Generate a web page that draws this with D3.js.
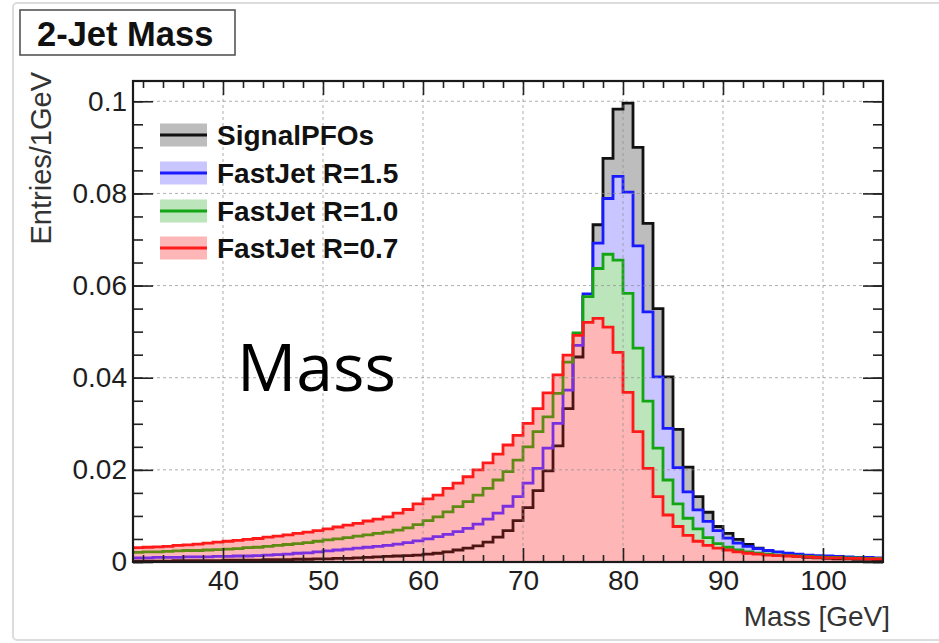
<!DOCTYPE html>
<html>
<head>
<meta charset="utf-8">
<script src="https://cdn.jsdelivr.net/npm/d3@7"></script>
<style>
  body { margin: 0; background: #fff; }
  svg { display: block; font-family: "Liberation Sans", Arial, Helvetica, sans-serif; }
</style>
</head>
<body>
<svg id="chart" width="939" height="643"></svg>
<script>
// histogram binning: 1 GeV bins starting at 31 GeV
const binLow = 31;
const binWidth = 1;
const massRange = [31, 106];
const entriesMax = 0.1044;

const xTicks = [40, 50, 60, 70, 80, 90, 100];
const xMinorTicks = d3.range(32, 106, 2);
const yTicks = [0, 0.02, 0.04, 0.06, 0.08, 0.1];
const yTickLabels = ["0", "0.02", "0.04", "0.06", "0.08", "0.1"];
const yMinorTicks = d3.range(0, 0.1041, 0.005);

const seriesNames = ["SignalPFOs", "FastJet R=1.5", "FastJet R=1.0", "FastJet R=0.7"];

// bins 31..105 (lower edges)
const signalPFOs = [
  0.0002, 0.0002, 0.0002, 0.0002, 0.0003, 0.0003, 0.0003, 0.0003, 0.0003, 0.0004,
  0.0004, 0.0004, 0.0004, 0.0005, 0.0005, 0.0005, 0.0006, 0.0006, 0.0007, 0.0007,
  0.0008, 0.0008, 0.0009, 0.0010, 0.0011, 0.0012, 0.0013, 0.0014, 0.0015, 0.0017,
  0.0019, 0.0022, 0.0026, 0.0030, 0.0035, 0.0043, 0.0054, 0.0068, 0.0090, 0.0118,
  0.0155, 0.0198, 0.0252, 0.0333, 0.0445, 0.0575, 0.0732, 0.0876, 0.0983, 0.0996,
  0.0900, 0.0735, 0.0550, 0.0402, 0.0288, 0.0206, 0.0142, 0.0108, 0.0077, 0.0062,
  0.0049, 0.0038, 0.0030, 0.0023, 0.0018, 0.0015, 0.0012, 0.0010, 0.0009, 0.0008,
  0.0007, 0.0007, 0.0006, 0.0006, 0.0005
];
const fastJetR15 = [
  0.0009, 0.0009, 0.0010, 0.0010, 0.0010, 0.0011, 0.0011, 0.0011, 0.0012, 0.0012,
  0.0013, 0.0013, 0.0014, 0.0015, 0.0016, 0.0017, 0.0019, 0.0020, 0.0022, 0.0024,
  0.0026, 0.0028, 0.0030, 0.0032, 0.0034, 0.0036, 0.0039, 0.0042, 0.0046, 0.0050,
  0.0055, 0.0060, 0.0066, 0.0073, 0.0082, 0.0093, 0.0106, 0.0121, 0.0142, 0.0171,
  0.0203, 0.0247, 0.0301, 0.0373, 0.0470, 0.0582, 0.0692, 0.0789, 0.0837, 0.0803,
  0.0686, 0.0543, 0.0402, 0.0290, 0.0205, 0.0152, 0.0113, 0.0088, 0.0068, 0.0052,
  0.0041, 0.0034, 0.0029, 0.0025, 0.0022, 0.0019, 0.0017, 0.0015, 0.0014, 0.0013,
  0.0012, 0.0011, 0.0010, 0.0010, 0.0009
];
const fastJetR10 = [
  0.0021, 0.0022, 0.0022, 0.0023, 0.0024, 0.0025, 0.0025, 0.0026, 0.0027, 0.0028,
  0.0029, 0.0031, 0.0032, 0.0034, 0.0036, 0.0038, 0.0040, 0.0042, 0.0045, 0.0048,
  0.0050, 0.0053, 0.0056, 0.0059, 0.0062, 0.0065, 0.0069, 0.0074, 0.0081, 0.0090,
  0.0098, 0.0109, 0.0120, 0.0131, 0.0145, 0.0160, 0.0178, 0.0196, 0.0221, 0.0250,
  0.0283, 0.0315, 0.0366, 0.0434, 0.0497, 0.0576, 0.0637, 0.0668, 0.0655, 0.0583,
  0.0464, 0.0349, 0.0247, 0.0178, 0.0126, 0.0095, 0.0072, 0.0053, 0.0040, 0.0032,
  0.0026, 0.0022, 0.0019, 0.0017, 0.0015, 0.0014, 0.0013, 0.0012, 0.0011, 0.0010,
  0.0010, 0.0009, 0.0009, 0.0008, 0.0008
];
const fastJetR07 = [
  0.0031, 0.0032, 0.0033, 0.0034, 0.0036, 0.0037, 0.0039, 0.0041, 0.0043, 0.0045,
  0.0047, 0.0049, 0.0051, 0.0054, 0.0056, 0.0059, 0.0062, 0.0065, 0.0068, 0.0072,
  0.0076, 0.0080, 0.0084, 0.0089, 0.0093, 0.0098, 0.0106, 0.0114, 0.0126, 0.0137,
  0.0145, 0.0160, 0.0171, 0.0185, 0.0200, 0.0215, 0.0234, 0.0254, 0.0275, 0.0301,
  0.0333, 0.0367, 0.0406, 0.0449, 0.0492, 0.0520, 0.0529, 0.0510, 0.0455, 0.0368,
  0.0283, 0.0203, 0.0142, 0.0102, 0.0077, 0.0058, 0.0045, 0.0036, 0.0030, 0.0026,
  0.0022, 0.0019, 0.0017, 0.0015, 0.0014, 0.0013, 0.0012, 0.0011, 0.0010, 0.0009,
  0.0009, 0.0008, 0.0008, 0.0007, 0.0007
];

const lineColors = ["#111111", "#1a1aff", "#14a514", "#ff1a1a"];
const fillColors = ["#bdbdbd", "#c9c6ff", "#bce5bc", "#ffb6b6"];
// line colour as seen through the translucent R=0.7 fill
const tintColors = ["#4d1414", "#7a2fe0", "#5f8a14", null];

const svg = d3.select("#chart");
const plot = { left: 133, right: 883, top: 81, bottom: 562 };

const x = d3.scaleLinear().domain(massRange).range([plot.left, plot.right]);
const y = d3.scaleLinear().domain([0, entriesMax]).range([plot.bottom, plot.top]);

// outer frame of the canvas
svg.append("rect")
  .attr("x", 13).attr("y", 3).attr("width", 940).attr("height", 637)
  .attr("rx", 4)
  .attr("fill", "#fff").attr("stroke", "#dcdcdc").attr("stroke-width", 2);

const defs = svg.append("defs");
defs.append("clipPath").attr("id", "plotClip")
  .append("rect")
  .attr("x", plot.left).attr("y", plot.top)
  .attr("width", plot.right - plot.left).attr("height", plot.bottom - plot.top);

const toPoints = vals => vals.map((v, i) => [binLow + i * binWidth, v])
  .concat([[binLow + vals.length * binWidth, vals[vals.length - 1]]]);

const area = d3.area()
  .x(d => x(d[0])).y0(y(0)).y1(d => y(d[1]))
  .curve(d3.curveStepAfter);
const line = d3.line()
  .x(d => x(d[0])).y(d => y(d[1]))
  .curve(d3.curveStepAfter);

const series = [signalPFOs, fastJetR15, fastJetR10, fastJetR07].map((vals, i) => ({
  name: seriesNames[i], points: toPoints(vals),
  line: lineColors[i], fill: fillColors[i], tint: tintColors[i]
}));

defs.append("clipPath").attr("id", "redClip")
  .append("path").attr("d", area(series[3].points));

const g = svg.append("g").attr("clip-path", "url(#plotClip)");

series.forEach((s, i) => {
  g.append("path").attr("d", area(s.points)).attr("fill", s.fill);
  if (i < 3) {
    g.append("path").attr("d", line(s.points))
      .attr("fill", "none").attr("stroke", s.line).attr("stroke-width", 2.8);
  }
});

// grid
const grid = svg.append("g").attr("stroke", "#8c8c8c").attr("stroke-opacity", 0.7)
  .attr("stroke-width", 1).attr("stroke-dasharray", "3,3");
grid.selectAll(".gx").data(xTicks).join("line")
  .attr("x1", d => x(d)).attr("x2", d => x(d))
  .attr("y1", plot.top).attr("y2", plot.bottom);
grid.selectAll(".gy").data(yTicks.slice(1)).join("line")
  .attr("y1", d => y(d)).attr("y2", d => y(d))
  .attr("x1", plot.left).attr("x2", plot.right);

// lines under the translucent red fill
const tinted = g.append("g").attr("clip-path", "url(#redClip)");
series.slice(0, 3).forEach(s => {
  tinted.append("path").attr("d", line(s.points))
    .attr("fill", "none").attr("stroke", s.tint).attr("stroke-width", 2.8);
});
g.append("path").attr("d", line(series[3].points))
  .attr("fill", "none").attr("stroke", series[3].line).attr("stroke-width", 2.8);

// axes
function styleAxis(sel) {
  sel.select(".domain").remove();
  sel.selectAll(".tick line").attr("stroke", "#222").attr("stroke-width", 1.6);
  sel.selectAll(".tick text").attr("fill", "#1e1e1e").attr("font-size", 28)
    .attr("font-family", "Liberation Sans, Arial, sans-serif");
}

svg.append("g").attr("transform", `translate(0,${plot.bottom})`)
  .call(d3.axisBottom(x).tickValues(xTicks).tickSize(-14).tickPadding(8).tickFormat(d3.format("d")))
  .call(styleAxis)
  .selectAll(".tick text").attr("dy", "0.71em");
svg.append("g").attr("transform", `translate(0,${plot.bottom})`)
  .call(d3.axisBottom(x).tickValues(xMinorTicks.filter(d => d % 10)).tickSize(-7).tickFormat(""))
  .call(styleAxis);
svg.append("g").attr("transform", `translate(0,${plot.top})`)
  .call(d3.axisTop(x).tickValues(xTicks).tickSize(-14).tickFormat(""))
  .call(styleAxis);
svg.append("g").attr("transform", `translate(0,${plot.top})`)
  .call(d3.axisTop(x).tickValues(xMinorTicks.filter(d => d % 10)).tickSize(-7).tickFormat(""))
  .call(styleAxis);

svg.append("g").attr("transform", `translate(${plot.left},0)`)
  .call(d3.axisLeft(y).tickValues(yTicks).tickSize(-20).tickPadding(6)
    .tickFormat((d, i) => yTickLabels[i]))
  .call(styleAxis);
svg.append("g").attr("transform", `translate(${plot.left},0)`)
  .call(d3.axisLeft(y).tickValues(yMinorTicks).tickSize(-10).tickFormat(""))
  .call(styleAxis);
svg.append("g").attr("transform", `translate(${plot.right},0)`)
  .call(d3.axisRight(y).tickValues(yTicks).tickSize(-20).tickFormat(""))
  .call(styleAxis);
svg.append("g").attr("transform", `translate(${plot.right},0)`)
  .call(d3.axisRight(y).tickValues(yMinorTicks).tickSize(-10).tickFormat(""))
  .call(styleAxis);

svg.append("rect")
  .attr("x", plot.left).attr("y", plot.top)
  .attr("width", plot.right - plot.left).attr("height", plot.bottom - plot.top)
  .attr("fill", "none").attr("stroke", "#1a1a1a").attr("stroke-width", 2.2);

// axis titles
svg.append("text")
  .attr("x", 890).attr("y", 626)
  .attr("text-anchor", "end").attr("font-size", 28).attr("fill", "#333")
  .text("Mass [GeV]");
svg.append("text")
  .attr("transform", "translate(51,72) rotate(-90)")
  .attr("text-anchor", "end").attr("font-size", 29).attr("fill", "#333")
  .text("Entries/1GeV");

// title box
svg.append("rect")
  .attr("x", 20).attr("y", 10).attr("width", 215).attr("height", 45)
  .attr("fill", "#fff").attr("stroke", "#555").attr("stroke-width", 1.6);
svg.append("text")
  .attr("x", 37).attr("y", 46)
  .attr("font-size", 34.5).attr("font-weight", "bold").attr("fill", "#111")
  .text("2-Jet Mass");

// legend
const legendRows = [135, 173, 211, 248];
const legend = svg.append("g");
series.forEach((s, i) => {
  const cy = legendRows[i];
  legend.append("rect")
    .attr("x", 160).attr("y", cy - 11.5).attr("width", 47).attr("height", 23)
    .attr("fill", s.fill);
  legend.append("line")
    .attr("x1", 160).attr("x2", 207).attr("y1", cy).attr("y2", cy)
    .attr("stroke", s.line).attr("stroke-width", 2.8);
  legend.append("text")
    .attr("x", 217).attr("y", cy + 10)
    .attr("font-size", 28).attr("font-weight", "bold").attr("fill", "#111")
    .text(s.name);
});

// overlay label
svg.append("text")
  .attr("x", 237).attr("y", 391)
  .attr("font-family", "'Open Sans', sans-serif")
  .attr("font-size", 66).attr("fill", "#000")
  .text("Mass");
</script>
</body>
</html>
